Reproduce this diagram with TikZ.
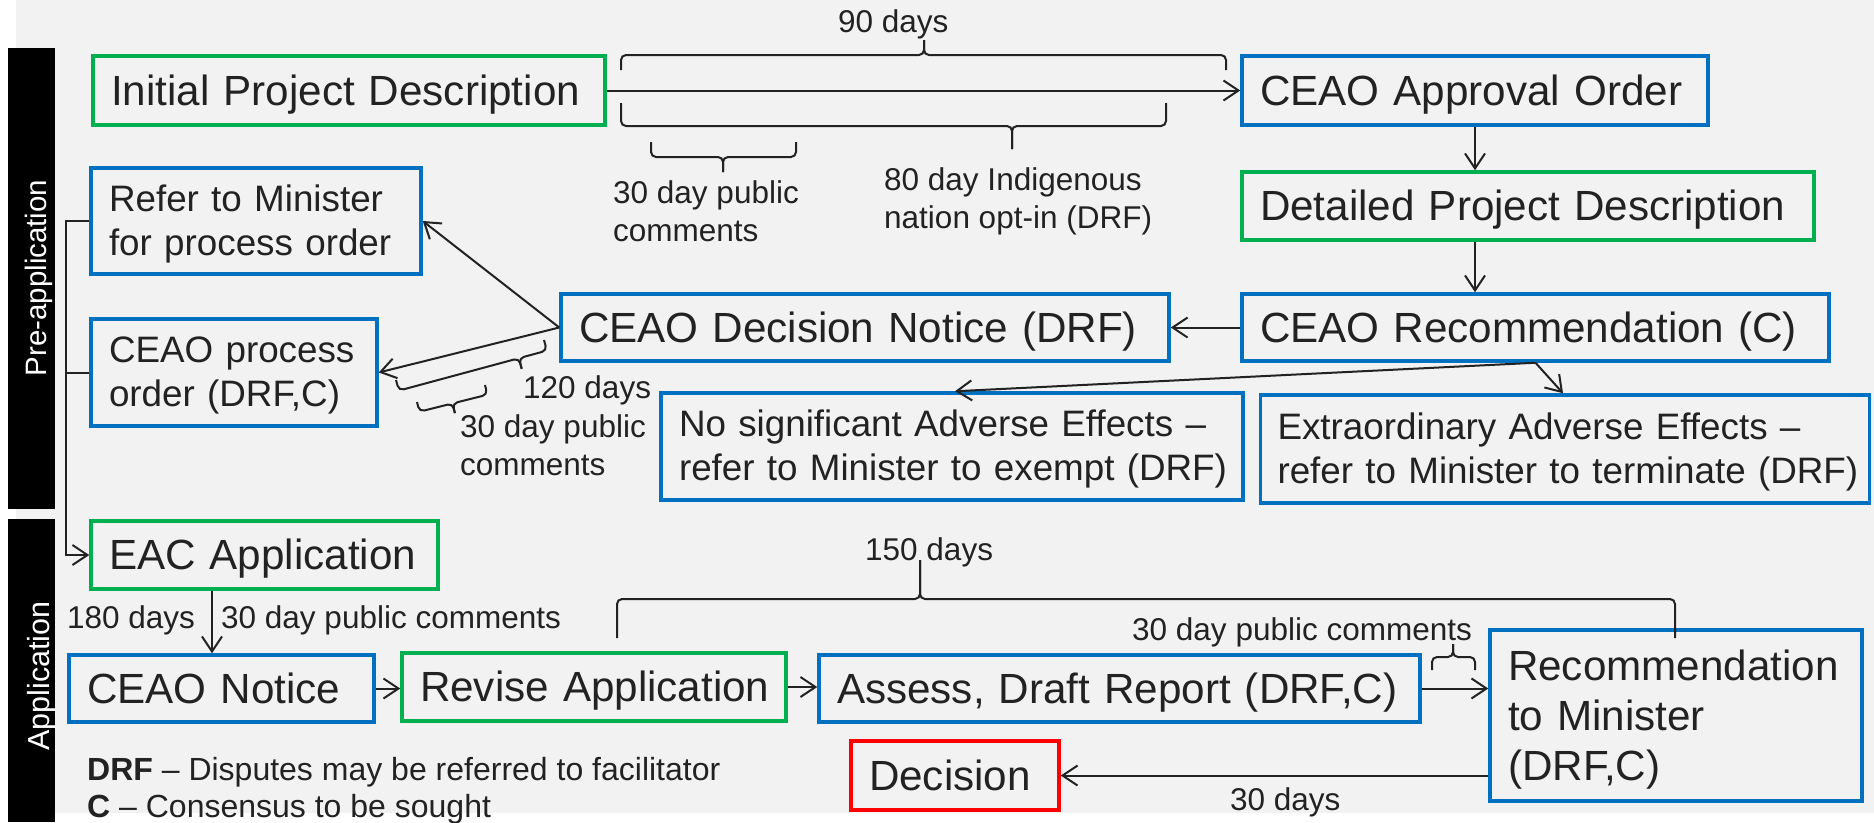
\documentclass[tikz,border=0pt]{standalone}
\usepackage{fontspec}
\setmainfont{Liberation Sans}
\usetikzlibrary{arrows.meta}
\definecolor{bggray}{HTML}{F2F2F2}
\definecolor{pblue}{HTML}{0070C0}
\definecolor{pgreen}{HTML}{00B050}
\definecolor{pred}{HTML}{FF0000}
\definecolor{ink}{HTML}{222222}
\newcommand{\bigtxt}{\fontsize{42.2}{50}\selectfont}
\newcommand{\midtxt}{\fontsize{36.8}{44}\selectfont}
\newcommand{\smalltxt}{\fontsize{31.5}{38}\selectfont}
\newcommand{\bstr}{\rule[-7.6pt]{0pt}{45.8pt}}
\newcommand{\mstr}{\rule[-6.5pt]{0pt}{39pt}}
\newcommand{\sstr}{\rule[-7pt]{0pt}{36pt}}
% horizontal brace: x1, x2, y of ends, y of line, x of tip
\newcommand{\HBrace}[5]{%
  \draw[bracestyle] (#1,#3) -- (#1,#4) -- (#5,#4) -- (#5,{2*(#4)-(#3)});
  \draw[bracestyle] (#5,{2*(#4)-(#3)}) -- (#5,#4) -- (#2,#4) -- (#2,#3);}
\begin{document}
\begin{tikzpicture}[x=1pt, y=-1pt,
  box/.style={draw, line width=3.5pt, inner xsep=18pt, inner ysep=0pt, align=left, text=ink},
  bigbox/.style={box, font=\bigtxt},
  midbox/.style={box, font=\midtxt},
  conn/.style={draw=ink, line width=2pt, -{Straight Barb[length=15pt,width=20pt]}},
  plain/.style={draw=ink, line width=2pt},
  bracestyle/.style={draw=ink, line width=2pt, rounded corners=5pt},
  lbl/.style={text=ink, inner sep=0pt, font=\smalltxt, align=left},
  sidelbl/.style={text=white, inner sep=0pt, rotate=90, anchor=base}]
% background
\fill[white] (0,0) rectangle (1874,822);
\fill[bggray] (16,0) rectangle (1874,813);
\useasboundingbox (0,0) rectangle (1874,822);
% side bars
\fill[black] (8,48) rectangle (55,509);
\fill[black] (8,519) rectangle (55,822);
\node[sidelbl, font=\fontsize{29.5}{35}\selectfont] (prelbl) at (46,278) {Pre-application};
\node[sidelbl, font=\fontsize{30.5}{36}\selectfont] (applbl) at (49,676) {Application};

% boxes
\node[bigbox, draw=pgreen, minimum width=512pt, minimum height=69pt, text width=476pt] (init) at (349,90.5) {\mbox{\bstr Initial Project Description}};
\node[bigbox, draw=pblue, minimum width=466pt, minimum height=69pt, text width=430pt] (approval) at (1475,90.5) {\mbox{\bstr CEAO Approval Order}};
\node[bigbox, draw=pgreen, minimum width=572pt, minimum height=68pt, text width=536pt] (detailed) at (1528,206) {\mbox{\bstr Detailed Project Description}};
\node[bigbox, draw=pblue, minimum width=587pt, minimum height=67pt, text width=551pt] (rec) at (1535.5,327.5) {\mbox{\bstr CEAO Recommendation (C)}};
\node[bigbox, draw=pblue, minimum width=608pt, minimum height=67pt, text width=572pt] (decnotice) at (865,327.5) {\mbox{\bstr CEAO Decision Notice (DRF)}};
\node[midbox, draw=pblue, minimum width=330pt, minimum height=106pt, text width=294pt] (refer) at (256,221) {\mbox{\mstr Refer to Minister}\\\mbox{\mstr for process order}};
\node[midbox, draw=pblue, minimum width=286pt, minimum height=107pt, text width=250pt] (procorder) at (234,372.5) {\mbox{\mstr CEAO process}\\\mbox{\mstr order (DRF,C)}};
\node[midbox, draw=pblue, minimum width=582pt, minimum height=107pt, text width=546pt] (nosig) at (952,446.5) {\mbox{\mstr No significant Adverse Effects --}\\\mbox{\mstr refer to Minister to exempt (DRF)}};
\node[midbox, draw=pblue, inner xsep=17pt, minimum width=609pt, minimum height=108pt, text width=575pt] (extra) at (1565,449) {\mbox{\mstr Extraordinary Adverse Effects --}\\\mbox{\mstr refer to Minister to terminate (DRF)}};
\node[bigbox, draw=pgreen, minimum width=347pt, minimum height=68pt, text width=311pt] (eac) at (264.5,555) {\mbox{\bstr EAC Application}};
\node[bigbox, draw=pblue, minimum width=305pt, minimum height=67pt, text width=269pt] (notice) at (221.5,688.5) {\mbox{\bstr CEAO Notice}};
\node[bigbox, draw=pgreen, minimum width=384pt, minimum height=68pt, text width=348pt] (revise) at (594,687) {\mbox{\bstr Revise Application}};
\node[bigbox, draw=pblue, minimum width=601pt, minimum height=67pt, text width=565pt] (assess) at (1119.5,688.5) {\mbox{\bstr Assess, Draft Report (DRF,C)}};
\node[bigbox, draw=pblue, minimum width=372pt, minimum height=171pt, text width=336pt] (recmin) at (1676,715.5) {\mbox{\bstr Recommendation}\\\mbox{\bstr to Minister}\\\mbox{\bstr (DRF,C)}};
\node[bigbox, draw=pred, minimum width=208pt, minimum height=69pt, text width=172pt] (decision) at (955,775.5) {\mbox{\bstr Decision}};

% connectors
\coordinate (spine) at (66,0);
\coordinate (eacx) at (212,0);
\draw[conn] (init.east) -- (approval.west);
\draw[conn] (approval.south) -- (approval.south |- detailed.north);
\draw[conn] (approval.south |- detailed.south) -- (approval.south |- rec.north);
\draw[conn] (rec.west) -- (decnotice.east);
\draw[conn] (decnotice.west) -- (refer.east);
\draw[conn] (decnotice.west) -- (procorder.east);
\draw[conn] (rec.south) -- ([xshift=3pt]nosig.north);
\draw[conn] (rec.south) -- ([xshift=-2pt]extra.north);
\draw[conn] (refer.west) -- (refer.west -| spine) -- (spine |- eac.west) -- (eac.west);
\draw[plain] (procorder.west) -- (procorder.west -| spine);
\draw[conn] (eac.south -| eacx) -- (notice.north -| eacx);
\draw[conn] (notice.east) -- (notice.east -| revise.west);
\draw[conn] (revise.east) -- (revise.east -| assess.west);
\draw[conn] (assess.east) -- (assess.east -| recmin.west);
\draw[conn] (decision.east -| recmin.west) -- (decision.east);

% braces
\HBrace{621}{1226}{70}{55}{924}
\HBrace{621}{1166}{103}{126}{1012}
\HBrace{651}{796}{142}{157}{723}
\HBrace{617}{1675}{638}{599}{920}
\HBrace{1432}{1475}{670}{657}{1453}
% diagonal braces along the process-order arrow
\draw[bracestyle] (544,340) -- (546.9,350.6) -- (518.9,358.2) -- (521.7,368.8);
\draw[bracestyle] (521.7,368.8) -- (518.9,358.2) -- (398.9,390.6) -- (396,380);
\draw[bracestyle] (485,385) -- (487.4,394.7) -- (452.5,403.4) -- (454.9,413.1);
\draw[bracestyle] (454.9,413.1) -- (452.5,403.4) -- (419.4,411.7) -- (417,402);

% labels
\node[lbl, anchor=base west] (l90) at (838,32) {90 days};
\node[lbl, anchor=north west] (l30a) at (613,174) {\sstr 30 day public\\\sstr comments};
\node[lbl, anchor=north west] (l80) at (884,161) {\sstr 80 day Indigenous\\\sstr nation opt-in (DRF)};
\node[lbl, anchor=base west] (l120) at (523,398) {120 days};
\node[lbl, anchor=north west] (l30b) at (460,408) {\sstr 30 day public\\\sstr comments};
\node[lbl, anchor=base west] (l180) at (67,628) {180 days};
\node[lbl, anchor=base west] (l30c) at (221,628) {30 day public comments};
\node[lbl, anchor=base west] (l150) at (865,560) {150 days};
\node[lbl, anchor=base west] (l30d) at (1132,640) {30 day public comments};
\node[lbl, anchor=base west] (l30days) at (1230,810) {30 days};
\node[lbl, anchor=base west, font=\fontsize{32}{38}\selectfont] (legdrf) at (87,780) {\textbf{DRF} -- Disputes may be referred to facilitator};
\node[lbl, anchor=base west, font=\fontsize{32}{38}\selectfont] (legc) at (87,817) {\textbf{C} -- Consensus to be sought};
\end{tikzpicture}
\end{document}
